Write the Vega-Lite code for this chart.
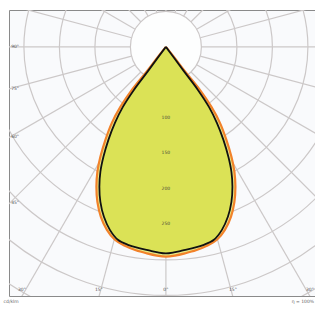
{
  "$schema": "https://vega.github.io/schema/vega-lite/v6.json",
  "width": 306,
  "height": 286,
  "autosize": "none",
  "padding": {"left": 9, "top": 10, "right": 0, "bottom": 18},
  "background": "#ffffff",
  "config": {
    "view": {"stroke": "#8a8a8a", "strokeWidth": 1, "fill": "#f9fafc"},
    "axis": {"disable": true},
    "text": {"font": "DejaVu Sans"}
  },
  "datasets": {
    "rings": [
      {"r": 50}, {"r": 100}, {"r": 150}, {"r": 200}, {"r": 250}, {"r": 300}, {"r": 350}, {"r": 400}, {"r": 450}
    ],
    "rays": [
      {"x": 0, "y": 50, "x2": 0, "y2": 700},
      {"x": 12.9, "y": 48.3, "x2": 181.2, "y2": 676.1},
      {"x": -12.9, "y": 48.3, "x2": -181.2, "y2": 676.1},
      {"x": 25, "y": 43.3, "x2": 350, "y2": 606.2},
      {"x": -25, "y": 43.3, "x2": -350, "y2": 606.2},
      {"x": 35.4, "y": 35.4, "x2": 495, "y2": 495},
      {"x": -35.4, "y": 35.4, "x2": -495, "y2": 495},
      {"x": 43.3, "y": 25, "x2": 606.2, "y2": 350},
      {"x": -43.3, "y": 25, "x2": -606.2, "y2": 350},
      {"x": 48.3, "y": 12.9, "x2": 676.1, "y2": 181.2},
      {"x": -48.3, "y": 12.9, "x2": -676.1, "y2": 181.2},
      {"x": 50, "y": 0, "x2": 700, "y2": 0},
      {"x": -50, "y": 0, "x2": -700, "y2": 0},
      {"x": 48.3, "y": -12.9, "x2": 676.1, "y2": -181.2},
      {"x": -48.3, "y": -12.9, "x2": -676.1, "y2": -181.2},
      {"x": 43.3, "y": -25, "x2": 606.2, "y2": -350},
      {"x": -43.3, "y": -25, "x2": -606.2, "y2": -350},
      {"x": 35.4, "y": -35.4, "x2": 495, "y2": -495},
      {"x": -35.4, "y": -35.4, "x2": -495, "y2": -495},
      {"x": 25, "y": -43.3, "x2": 350, "y2": -606.2},
      {"x": -25, "y": -43.3, "x2": -350, "y2": -606.2},
      {"x": 12.9, "y": -48.3, "x2": 181.2, "y2": -676.1},
      {"x": -12.9, "y": -48.3, "x2": -181.2, "y2": -676.1},
      {"x": 0, "y": -50, "x2": 0, "y2": -700}
    ],
    "orange": [
      {"i": 0, "x": 0, "y": 0},
      {"i": 1, "x": -11.3, "y": 14.1},
      {"i": 2, "x": -27.5, "y": 35.2},
      {"i": 3, "x": -47.9, "y": 60.6},
      {"i": 4, "x": -64.1, "y": 84.5},
      {"i": 5, "x": -76.1, "y": 107.0},
      {"i": 6, "x": -85.2, "y": 131.0},
      {"i": 7, "x": -92.3, "y": 154.9},
      {"i": 8, "x": -96.5, "y": 176.1},
      {"i": 9, "x": -97.9, "y": 197.2},
      {"i": 10, "x": -96.5, "y": 218.3},
      {"i": 11, "x": -91.6, "y": 239.4},
      {"i": 12, "x": -83.1, "y": 257.8},
      {"i": 13, "x": -71.8, "y": 271.8},
      {"i": 14, "x": -57.7, "y": 280.3},
      {"i": 15, "x": -42.3, "y": 286.6},
      {"i": 16, "x": -26.8, "y": 290.9},
      {"i": 17, "x": -12.7, "y": 294.0},
      {"i": 18, "x": 0, "y": 295.4},
      {"i": 19, "x": 12.7, "y": 294.0},
      {"i": 20, "x": 26.8, "y": 290.9},
      {"i": 21, "x": 42.3, "y": 286.6},
      {"i": 22, "x": 57.7, "y": 280.3},
      {"i": 23, "x": 71.8, "y": 271.8},
      {"i": 24, "x": 83.1, "y": 257.8},
      {"i": 25, "x": 91.6, "y": 239.4},
      {"i": 26, "x": 96.5, "y": 218.3},
      {"i": 27, "x": 97.9, "y": 197.2},
      {"i": 28, "x": 96.5, "y": 176.1},
      {"i": 29, "x": 92.3, "y": 154.9},
      {"i": 30, "x": 85.2, "y": 131.0},
      {"i": 31, "x": 76.1, "y": 107.0},
      {"i": 32, "x": 64.1, "y": 84.5},
      {"i": 33, "x": 47.9, "y": 60.6},
      {"i": 34, "x": 27.5, "y": 35.2},
      {"i": 35, "x": 11.3, "y": 14.1},
      {"i": 36, "x": 0, "y": 0}
    ],
    "black": [
      {"i": 0, "x": 0, "y": 0},
      {"i": 1, "x": -10.6, "y": 14.1},
      {"i": 2, "x": -26.1, "y": 35.2},
      {"i": 3, "x": -45.1, "y": 60.6},
      {"i": 4, "x": -60.6, "y": 84.5},
      {"i": 5, "x": -71.8, "y": 107.0},
      {"i": 6, "x": -81.0, "y": 131.0},
      {"i": 7, "x": -88.0, "y": 154.9},
      {"i": 8, "x": -92.3, "y": 176.1},
      {"i": 9, "x": -93.7, "y": 197.2},
      {"i": 10, "x": -92.3, "y": 218.3},
      {"i": 11, "x": -87.3, "y": 239.4},
      {"i": 12, "x": -78.9, "y": 257.8},
      {"i": 13, "x": -67.6, "y": 271.8},
      {"i": 14, "x": -53.5, "y": 278.9},
      {"i": 15, "x": -38.0, "y": 283.5},
      {"i": 16, "x": -23.9, "y": 286.8},
      {"i": 17, "x": -11.3, "y": 289.6},
      {"i": 18, "x": 0, "y": 291.0},
      {"i": 19, "x": 11.3, "y": 289.6},
      {"i": 20, "x": 23.9, "y": 286.8},
      {"i": 21, "x": 38.0, "y": 283.5},
      {"i": 22, "x": 53.5, "y": 278.9},
      {"i": 23, "x": 67.6, "y": 271.8},
      {"i": 24, "x": 78.9, "y": 257.8},
      {"i": 25, "x": 87.3, "y": 239.4},
      {"i": 26, "x": 92.3, "y": 218.3},
      {"i": 27, "x": 93.7, "y": 197.2},
      {"i": 28, "x": 92.3, "y": 176.1},
      {"i": 29, "x": 88.0, "y": 154.9},
      {"i": 30, "x": 81.0, "y": 131.0},
      {"i": 31, "x": 71.8, "y": 107.0},
      {"i": 32, "x": 60.6, "y": 84.5},
      {"i": 33, "x": 45.1, "y": 60.6},
      {"i": 34, "x": 26.1, "y": 35.2},
      {"i": 35, "x": 10.6, "y": 14.1},
      {"i": 36, "x": 0, "y": 0}
    ],
    "angleLeft": [
      {"x": -218, "y": 0, "t": "90°"},
      {"x": -218, "y": 59.2, "t": "75°"},
      {"x": -218, "y": 126.8, "t": "60°"},
      {"x": -218, "y": 219.7, "t": "45°"}
    ],
    "angleBottom": [
      {"x": -202.8, "y": 342, "t": "30°"},
      {"x": -94.4, "y": 342, "t": "15°"},
      {"x": 0, "y": 342, "t": "0°"},
      {"x": 94.4, "y": 342, "t": "15°"},
      {"x": 202.8, "y": 342, "t": "30°"}
    ],
    "ringLabels": [
      {"x": 0, "y": 100, "t": "100"},
      {"x": 0, "y": 150, "t": "150"},
      {"x": 0, "y": 200, "t": "200"},
      {"x": 0, "y": 250, "t": "250"}
    ],
    "notes": [
      {"x": -218, "y": 360, "t": "cd/klm", "a": "left"},
      {"x": 193, "y": 360, "t": "η = 100%", "a": "right"}
    ]
  },
  "layer": [
    {
      "data": {"name": "rings"},
      "mark": {"type": "point", "shape": "circle", "filled": true, "fill": "#ffffff", "stroke": null, "clip": true},
      "transform": [{"filter": "datum.r == 50"}],
      "encoding": {
        "x": {"datum": 0, "type": "quantitative", "scale": {"domain": [-221, 210], "nice": false, "zero": false}},
        "y": {"datum": 0, "type": "quantitative", "scale": {"domain": [-52, 351], "nice": false, "zero": false, "reverse": true}},
        "size": {"field": "r", "type": "quantitative", "scale": {"type": "pow", "exponent": 2, "domain": [0, 400], "range": [0, 322606]}, "legend": null}
      }
    },
    {
      "data": {"name": "rings"},
      "mark": {"type": "point", "shape": "circle", "filled": false, "stroke": "#ccc8c8", "strokeWidth": 1.2, "opacity": 1, "clip": true},
      "encoding": {
        "x": {"datum": 0, "type": "quantitative"},
        "y": {"datum": 0, "type": "quantitative"},
        "size": {"field": "r", "type": "quantitative", "legend": null}
      }
    },
    {
      "data": {"name": "rays"},
      "mark": {"type": "rule", "stroke": "#ccc8c8", "strokeWidth": 1.2, "clip": true},
      "encoding": {
        "x": {"field": "x", "type": "quantitative"},
        "y": {"field": "y", "type": "quantitative"},
        "x2": {"field": "x2"},
        "y2": {"field": "y2"}
      }
    },
    {
      "data": {"name": "orange"},
      "mark": {"type": "line", "interpolate": "catmull-rom", "stroke": "#f2822a", "strokeWidth": 2.2, "fill": "#e6ea86", "clip": true},
      "encoding": {
        "x": {"field": "x", "type": "quantitative"},
        "y": {"field": "y", "type": "quantitative"},
        "order": {"field": "i", "type": "quantitative"}
      }
    },
    {
      "data": {"name": "black"},
      "mark": {"type": "line", "interpolate": "catmull-rom", "stroke": "#111111", "strokeWidth": 1.8, "fill": "#dbe256", "clip": true},
      "encoding": {
        "x": {"field": "x", "type": "quantitative"},
        "y": {"field": "y", "type": "quantitative"},
        "order": {"field": "i", "type": "quantitative"}
      }
    },
    {
      "data": {"name": "ringLabels"},
      "mark": {"type": "text", "fontSize": 4.5, "color": "#4a4a3a", "align": "center", "baseline": "middle"},
      "encoding": {
        "x": {"field": "x", "type": "quantitative"},
        "y": {"field": "y", "type": "quantitative"},
        "text": {"field": "t"}
      }
    },
    {
      "data": {"name": "angleLeft"},
      "mark": {"type": "text", "fontSize": 4.5, "color": "#555555", "align": "left", "baseline": "middle"},
      "encoding": {
        "x": {"field": "x", "type": "quantitative"},
        "y": {"field": "y", "type": "quantitative"},
        "text": {"field": "t"}
      }
    },
    {
      "data": {"name": "angleBottom"},
      "mark": {"type": "text", "fontSize": 4.5, "color": "#555555", "align": "center", "baseline": "middle"},
      "encoding": {
        "x": {"field": "x", "type": "quantitative"},
        "y": {"field": "y", "type": "quantitative"},
        "text": {"field": "t"}
      }
    },
    {
      "mark": {"type": "rule", "stroke": "#6b6b6b", "strokeWidth": 2.5},
      "encoding": {
        "x": {"datum": -221, "type": "quantitative"},
        "x2": {"datum": 210},
        "y": {"datum": 351, "type": "quantitative"}
      }
    },
    {
      "data": {"name": "notes"},
      "mark": {"type": "text", "fontSize": 4.5, "color": "#666666", "baseline": "middle"},
      "encoding": {
        "x": {"field": "x", "type": "quantitative"},
        "y": {"field": "y", "type": "quantitative"},
        "align": {"field": "a", "type": "nominal", "scale": null},
        "text": {"field": "t"}
      }
    },
    {
      "mark": {"type": "rule", "stroke": "#f2822a", "strokeWidth": 1.5},
      "encoding": {
        "x": {"datum": -220, "type": "quantitative"},
        "x2": {"datum": -200},
        "y": {"datum": 371, "type": "quantitative"}
      }
    },
    {
      "mark": {"type": "rect", "fill": "#cfcfcf"},
      "encoding": {
        "x": {"datum": -195, "type": "quantitative"},
        "x2": {"datum": -167},
        "y": {"datum": 366, "type": "quantitative"},
        "y2": {"datum": 376}
      }
    },
    {
      "mark": {"type": "text", "fontSize": 4.5, "color": "#555555", "align": "left", "baseline": "middle"},
      "encoding": {
        "x": {"datum": -194, "type": "quantitative"},
        "y": {"datum": 371, "type": "quantitative"},
        "text": {"value": "C0 - C180"}
      }
    }
  ]
}
